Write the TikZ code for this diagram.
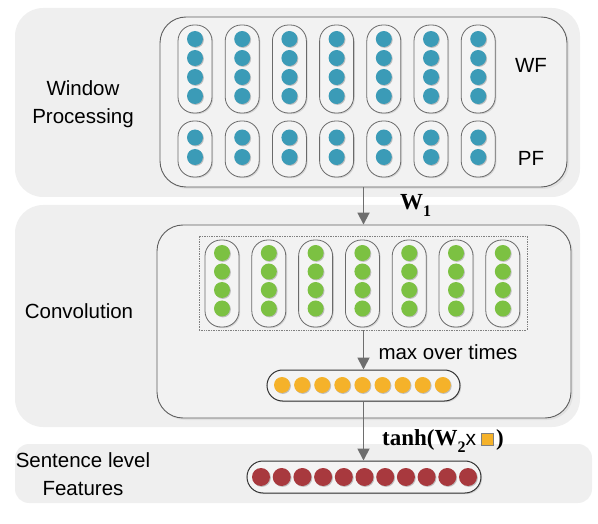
\documentclass[tikz,border=0pt]{standalone}
\usepackage{fontspec}
\setmainfont{Liberation Sans}
\newfontfamily\tms{Liberation Serif}
\usetikzlibrary{shadows,arrows.meta}
\definecolor{panelbg}{HTML}{EFEFEF}
\definecolor{boxbg}{HTML}{F2F2F2}
\definecolor{boxline}{HTML}{5E5E5E}
\definecolor{pillbg}{HTML}{F4F4F4}
\definecolor{pillline}{HTML}{6A6A6A}
\definecolor{tealC}{HTML}{3B9BB7}
\definecolor{greenC}{HTML}{7CC142}
\definecolor{orangeC}{HTML}{F5B22A}
\definecolor{redC}{HTML}{A8393E}
\definecolor{arrgray}{HTML}{6E6E6E}
\begin{document}
\begin{tikzpicture}[x=1pt,y=-1pt,
  panel/.style={fill=panelbg, draw=none, rounded corners=28pt, inner sep=0pt},
  inbox/.style={fill=boxbg, draw=boxline, line width=0.9pt, rounded corners=26pt, inner sep=0pt,
     drop shadow={shadow xshift=2pt, shadow yshift=-2pt, opacity=0.12}},
  pill/.style={draw=pillline, fill=pillbg, line width=0.8pt, inner sep=0pt,
     drop shadow={shadow xshift=1.2pt, shadow yshift=-1.2pt, opacity=0.25}},
  vpill/.style={pill, rounded corners=16pt, minimum width=34pt},
  dot/.style={circle, draw=none, inner sep=0pt, minimum size=16pt,
     drop shadow={shadow xshift=0.9pt, shadow yshift=-0.9pt, opacity=0.45}},
  lbl/.style={font=\fontsize{20.5}{28}\selectfont, inner sep=0pt},
  arr/.style={draw=arrgray, line width=1.8pt, -{Triangle[length=12pt,width=12pt]}}
]
\useasboundingbox (0,0) rectangle (598,524);

% panels
\node[panel, minimum width=565pt, minimum height=189pt] (p1) at (297.5,102.5) {};
\node[panel, minimum width=565pt, minimum height=222pt] (p2) at (297.5,316) {};
\node[panel, rounded corners=14pt, minimum width=577pt, minimum height=59pt] (p3) at (303.5,473.5) {};

% inner boxes
\node[inbox, minimum width=407pt, minimum height=170pt] (box1) at (363.5,102) {};
\node[inbox, minimum width=414pt, minimum height=193pt] (box2) at (364,321.5) {};

% window processing pills
\foreach \k in {0,...,6}{
  \pgfmathsetmacro{\xx}{195+47.2*\k}
  \node[vpill, minimum height=88pt] (wt\k) at (\xx,69) {};
  \foreach \j/\yy in {1/39,2/58,3/77,4/96}
    \node[dot, fill=tealC] (wt\k-\j) at (\xx,\yy) {};
  \node[vpill, minimum height=56pt] (wb\k) at (\xx,149) {};
  \foreach \j/\yy in {1/137.5,2/157}
    \node[dot, fill=tealC] (wb\k-\j) at (\xx,\yy) {};
}

% convolution
\node[draw=gray, densely dotted, line width=0.7pt, inner sep=0pt, minimum width=328pt, minimum height=94pt] (dots) at (363,283) {};
\foreach \k in {0,...,6}{
  \pgfmathsetmacro{\xx}{222+46.8*\k}
  \node[vpill, minimum height=87pt] (g\k) at (\xx,283.5) {};
  \foreach \j/\yy in {1/253,2/271.5,3/290,4/308.5}
    \node[dot, fill=greenC] (g\k-\j) at (\xx,\yy) {};
}

% orange pooled vector
\node[pill, line width=1pt, draw=black!80, rounded corners=15.5pt, minimum width=193pt, minimum height=31pt] (opill) at (363.5,385.5) {};
\foreach \k in {0,...,8}{
  \pgfmathsetmacro{\xx}{282+20.1*\k}
  \node[dot, fill=orangeC] (o\k) at (\xx,385) {};
}

% red sentence features
\node[pill, line width=1pt, draw=black!80, rounded corners=16pt, minimum width=234pt, minimum height=32pt] (rpill) at (364,477) {};
\foreach \k in {0,...,10}{
  \pgfmathsetmacro{\xx}{261+20.7*\k}
  \node[dot, fill=redC, minimum size=18pt] (r\k) at (\xx,477) {};
}

% arrows
\draw[arr] (box1.south -| opill.north) -- (box2.north -| opill.north);
\draw[arr] (dots.south -| opill.north) -- (opill.north);
\draw[arr] (opill.south) -- (rpill.north -| opill.south);

% labels
\node[lbl, align=center] (wp) at (83,104) {Window\\Processing};
\node[lbl] (wf) at (531,65) {WF};
\node[lbl] (pf) at (531,158) {PF};
\node[lbl] (conv) at (79,311) {Convolution};
\node[lbl] (mot) at (448,352) {max over times};
\node[lbl, align=center] (slf) at (83,474) {Sentence level\\Features};

\node[anchor=base west, inner sep=0pt] (w1) at (400,210)
  {\tms\bfseries\fontsize{23}{23}\selectfont W\raisebox{-7pt}{\fontsize{16}{16}\selectfont 1}};
\node[anchor=base west, inner sep=0pt] (tanh) at (382,445)
  {\setlength{\fboxsep}{0pt}\setlength{\fboxrule}{0.8pt}%
   {\tms\bfseries\fontsize{23}{23}\selectfont tanh(W\raisebox{-7pt}{\fontsize{16}{16}\selectfont 2}}%
   {\fontsize{21}{21}\selectfont x}\hspace{5pt}%
   \fcolorbox{gray}{orangeC}{\rule{0pt}{11.4pt}\hspace{11.4pt}}\hspace{2pt}%
   {\tms\bfseries\fontsize{23}{23}\selectfont )}};
\end{tikzpicture}
\end{document}
